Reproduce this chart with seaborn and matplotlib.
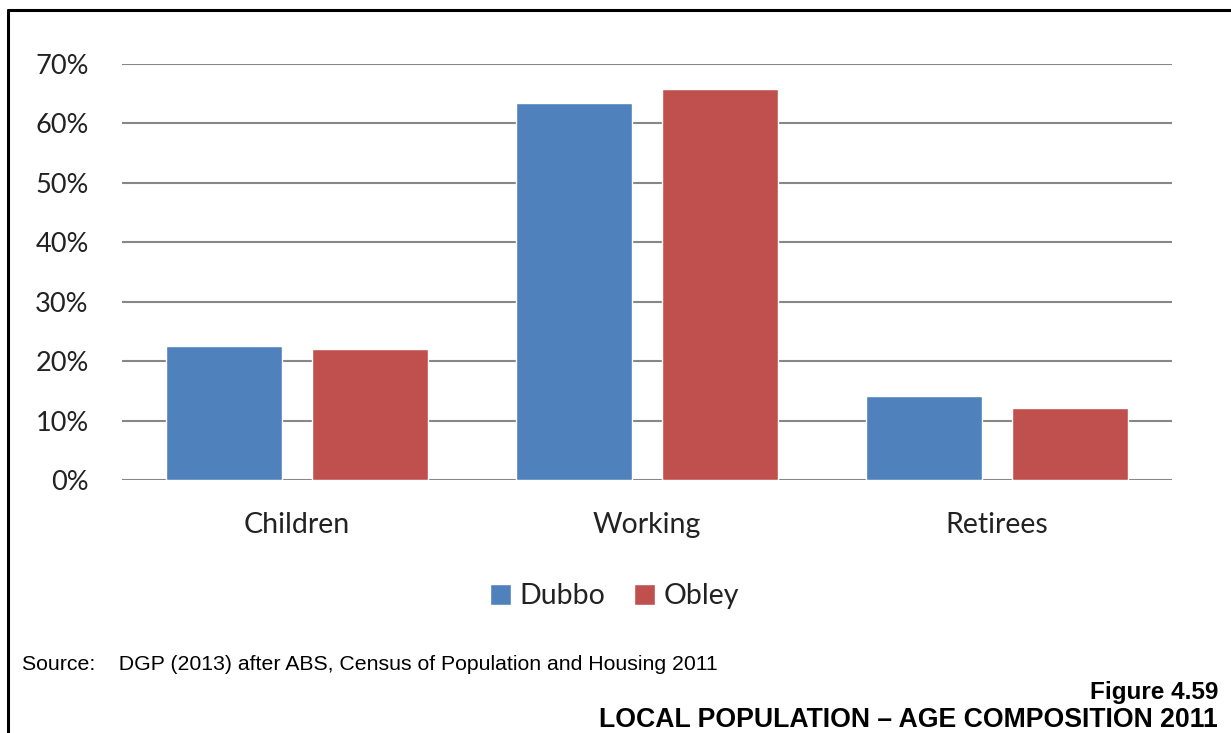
#! /usr/bin/env python3

import pandas as pd
import seaborn as sns
import matplotlib.pyplot as plt
from matplotlib.lines import Line2D
from matplotlib.ticker import PercentFormatter

groups = ['Children', 'Working', 'Retirees']
dubbo = [0.225, 0.634, 0.141]
obley = [0.220, 0.658, 0.121]
places = ['Dubbo', 'Obley']
colours = ['#4f81bd', '#c0504d']

df = pd.DataFrame({
    'group': groups * 2,
    'place': [places[0]] * 3 + [places[1]] * 3,
    'share': dubbo + obley,
})

sns.set_theme(style='white')
plt.rcParams['font.family'] = ['Lato', 'DejaVu Sans']

fig = plt.figure(figsize=(12.31, 7.33), dpi=100)
ax = fig.add_axes([0.0991, 0.3451, 0.8530, 0.5676])

sns.barplot(data=df, x='group', y='share', hue='place', order=groups,
            hue_order=places, palette=colours, width=0.834, gap=0.205,
            saturation=1, ax=ax, zorder=3)

ax.set_ylim(0, 0.7)
ax.set_yticks([i / 10 for i in range(8)])
ax.yaxis.set_major_formatter(PercentFormatter(1.0, decimals=0))
ax.grid(axis='y', color='#878787', linewidth=1.5, zorder=0)
for s in ax.spines.values():
    s.set_visible(False)
ax.set(xlabel='', ylabel='')
ax.tick_params(axis='y', labelsize=19.5, colors='#222222', pad=24, length=0)
ax.tick_params(axis='x', labelsize=20.5, colors='#222222', pad=23, length=0)

ax.legend(loc='center', bbox_to_anchor=(0.469, -0.279), ncol=2,
          frameon=False, fontsize=20.5, handlelength=0.75, handleheight=0.75,
          handletextpad=0.3, columnspacing=1.0, labelcolor='#222222')

fig.text(22 / 1231, 1 - 664 / 733, 'Source:    DGP (2013) after ABS, Census of Population and Housing 2011',
         fontsize=15.3, family='Liberation Sans', color='black',
         va='center', ha='left')
fig.text(1218 / 1231, 1 - 699 / 733, 'Figure 4.59', fontsize=17.5,
         fontweight='bold', family='Liberation Sans', color='black',
         ha='right', va='baseline')
fig.text(1218 / 1231, 1 - 727 / 733, 'LOCAL POPULATION \u2013 AGE COMPOSITION 2011',
         fontsize=19.2, fontweight='bold', family='Liberation Sans',
         color='black', ha='right', va='baseline')

# frame round the figure: left and top edges only
fig.add_artist(Line2D([8 / 1231, 8 / 1231], [0, 1 - 9.5 / 733],
                      color='black', linewidth=2.2))
fig.add_artist(Line2D([8 / 1231, 1], [1 - 9.5 / 733, 1 - 9.5 / 733],
                      color='black', linewidth=2.2))

fig.savefig('out.png', dpi=100)
